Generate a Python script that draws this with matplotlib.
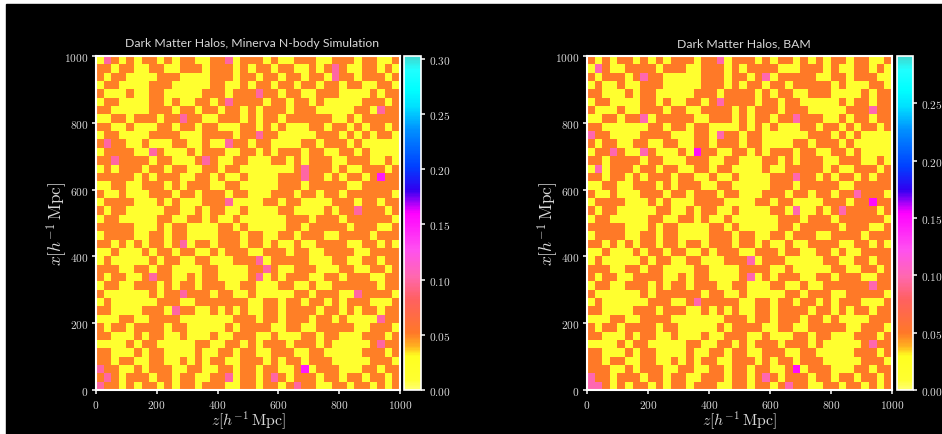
import numpy as np
import matplotlib
matplotlib.use("Agg")
import matplotlib.pyplot as plt
from matplotlib.colors import LinearSegmentedColormap
from matplotlib.patches import Rectangle

plt.rcParams["mathtext.fontset"] = "cm"

# halo field on a coarse 40x40 grid, top row first
# each hex digit is the value in units of 0.01
minerva_rows = [
    "1a51515515 1551155a15 5515115551 1555155115",
    "5515511551 1555155515 1551551151 5a51155151",
    "5155111155 5111155515 5155155155 1a55155515",
    "1551111555 1111155115 1551551551 5515511551",
    "5111511551 1111555155 5a55155115 5511115155",
    "1551111551 5115515a55 5515515515 1111155515",
    "5511111555 1551551551 5155515551 1111551a55",
    "1155155515 5a55115551 5155155555 5115155555",
    "5511511155 1551551115 5151511155 1551515515",
    "1551111555 5111555515 5a55111115 5515151551",
    "5a55115111 5511511a55 1551111551 5551511111",
    "1555511a51 1151555115 5151555155 1155151111",
    "55a5555155 1115a51155 1115515155 5115551151",
    "1515551551 5511551551 1111115a55 5151155515",
    "5555515155 5115515115 1111555a55 1515515f55",
    "1155115551 5155511551 1111555155 5551155555",
    "5115111555 1551555155 1115551551 5515555551",
    "1555511151 5111555a11 1155155111 1555155155",
    "5155111115 5115155115 1111551111 5155a55515",
    "1551111155 1155151151 1111155515 5515555551",
    "5555511151 5511115515 1111155155 5551555115",
    "1555511551 5511115551 5511551555 1155551555",
    "5515151551 5a15515551 5515115115 5551155151",
    "1151115155 1551151555 1155515511 5555115555",
    "1511111515 5115511155 5a15555511 1551155155",
    "5551155155 1111551111 55a5115551 1155115515",
    "5155115a55 1151551111 5a15155511 5515551155",
    "1551155515 1551555115 5111551151 1555555155",
    "5111111515 5a55515511 5111115515 5511a55551",
    "1511111155 5115555555 1155155155 1515551115",
    "5511115551 a551151515 1155155551 5515155155",
    "1115511555 5111111155 5155155515 5151111a55",
    "5155155551 5511111515 5551155115 5555115551",
    "5511151551 1511151155 5115111551 5511155515",
    "1111515511 1115511551 5155515551 5111115a55",
    "5511151551 1115115515 5115551155 1111155515",
    "5515511551 1515155115 5515155155 5111115551",
    "a551151555 1155115515 5155115f15 5511155155",
    "5a51555155 1551155a15 515a515551 5515515515",
    "a551515515 1551555115 515515a551 1551551515",
]
bam_rows = [
    "5151551515 1555155a15 5515155151 5155155115",
    "1a51155551 5551155515 1555511155 5151155151",
    "5155515a55 1111155515 515a155555 1155155511",
    "1511511555 1111155515 1551551555 5515111551",
    "5511151551 1111555155 5515155115 5511115155",
    "1551111551 5115515a55 5515515511 1115155155",
    "5111511555 1551155551 5155515551 1111555a55",
    "1155155a15 5555115551 5155155a55 5115155155",
    "5511111155 1551551111 5151511155 1551515515",
    "a551111555 5111551a55 1551111115 5515151111",
    "5155115511 5511551555 1551111551 5551511111",
    "155a511a51 1151f55115 5151555155 1155151111",
    "5515555155 1115551155 1115515155 5115551151",
    "1a15551551 5511551551 1115115555 5151155515",
    "5515515155 5155115115 1111555a55 1515515155",
    "1155115551 5155511551 1111555155 5551155555",
    "5115111555 1551555155 1115551551 55155a5551",
    "1555511151 5111555511 1155155111 1555155f55",
    "5155111115 5115155115 1111551a11 515a555515",
    "1551111155 1155151151 1111155515 5515555551",
    "5555511151 5511115515 1111155155 5551555115",
    "1555511551 5511115551 5511551555 1155551555",
    "5515151551 5515515551 5515115115 5551155151",
    "1151115155 1551151555 1155515511 5515115555",
    "1511111515 5115511155 5a15551111 1551155155",
    "5551155155 1111551111 5555115111 1155115515",
    "5155115555 1151551111 5a15155511 5515551155",
    "1551155515 1551555115 5111551151 1555555a55",
    "5111111515 5555515511 5111115515 5511555551",
    "1511111155 5115a55555 1155155155 1515551115",
    "5511115551 5551151515 1155155551 5515155155",
    "1115511555 5111111155 5155155515 5151111555",
    "5155155551 5511111515 5551155115 5555115551",
    "5511151551 1511151155 5115111551 5511155515",
    "1111515511 1115511551 5155515551 5111115a55",
    "5511151551 1115115515 5115551155 1111155515",
    "5515511551 1515155115 5515155155 5111115551",
    "5551151555 1155115515 5155115f15 5511155155",
    "a551555155 1551155515 515a515551 5515515515",
    "aa51515515 1551555115 515515a551 1551551515",
]

z_ticks = [0, 200, 400, 600, 800, 1000]
x_ticks = [0, 200, 400, 600, 800, 1000]
cbar_ticks_minerva = [0.00, 0.05, 0.10, 0.15, 0.20, 0.25, 0.30]
cbar_ticks_bam = [0.00, 0.05, 0.10, 0.15, 0.20, 0.25]
vmax_minerva = 0.3027
vmax_bam = 0.2914
titles = ["Dark Matter Halos, Minerva N-body Simulation", "Dark Matter Halos, BAM"]

W, H = 942, 435
GRAY = "#d8d8d8"

halo_cmap = LinearSegmentedColormap.from_list("halo", [
    (0.00, "#ffff70"), (0.03, "#ffff30"), (0.10, "#ffff20"), (0.13, "#ffb020"),
    (0.17, "#ff7828"), (0.27, "#ff6060"), (0.34, "#ff68b0"), (0.42, "#ff50f0"),
    (0.53, "#ff00ff"), (0.60, "#3000f0"), (0.67, "#0040ff"), (0.78, "#0090ff"),
    (0.85, "#00e0ff"), (0.90, "#00ffff"), (0.96, "#20ffff"), (1.00, "#40d8d0"),
])


def to_grid(rows):
    return np.array([[int(c, 16) / 100 for c in r.replace(" ", "")] for r in rows])


def box(x0, y0, x1, y1):
    return [x0 / W, 1 - y1 / H, (x1 - x0) / W, (y1 - y0) / H]


def draw_panel(fig, rows, vmax, cticks, title, ax_px, cax_px):
    ax = fig.add_axes(box(*ax_px))
    im = ax.imshow(to_grid(rows), cmap=halo_cmap, vmin=0, vmax=vmax, origin="upper",
                   extent=[0, 1000, 0, 1000], aspect="auto", interpolation="nearest")
    ax.set_xticks(z_ticks)
    ax.set_yticks(x_ticks)
    ax.set_xticklabels([f"${t}$" for t in z_ticks])
    ax.set_yticklabels([f"${t}$" for t in x_ticks])
    ax.set_xlabel(r"$z[h^{-1}\,{\rm Mpc}]$", fontsize=11.3, color=GRAY, labelpad=-1)
    ax.set_ylabel(r"$x[h^{-1}\,{\rm Mpc}]$", fontsize=12.5, color=GRAY, labelpad=-3.5)
    ax.set_title(title, fontsize=8.8, color=GRAY, pad=7, family="Lato", x=0.513)

    cax = fig.add_axes(box(*cax_px))
    cbar = fig.colorbar(im, cax=cax)
    cbar.set_ticks(cticks)
    cbar.set_ticklabels([f"${t:.2f}$" for t in cticks])
    cbar.outline.set_edgecolor("white")
    cbar.outline.set_linewidth(1.2)

    for a in (ax, cax):
        a.tick_params(colors="white", labelcolor=GRAY, labelsize=8.2, length=3, width=1.1, pad=2.5)
    for s in ax.spines.values():
        s.set_color("white")
        s.set_linewidth(1.5)


fig = plt.figure(figsize=(W / 100, H / 100), dpi=100, facecolor="white")
fig.add_artist(Rectangle((6 / W, 0), 1, 1 - 5 / H, transform=fig.transFigure, color="black", zorder=-1))

draw_panel(fig, minerva_rows, vmax_minerva, cbar_ticks_minerva, titles[0], (96, 57, 400, 391), (404, 57, 421, 391))
draw_panel(fig, bam_rows, vmax_bam, cbar_ticks_bam, titles[1], (587, 57, 892, 391), (897, 57, 913, 391))

fig.savefig("out.png", dpi=100, facecolor="white")
